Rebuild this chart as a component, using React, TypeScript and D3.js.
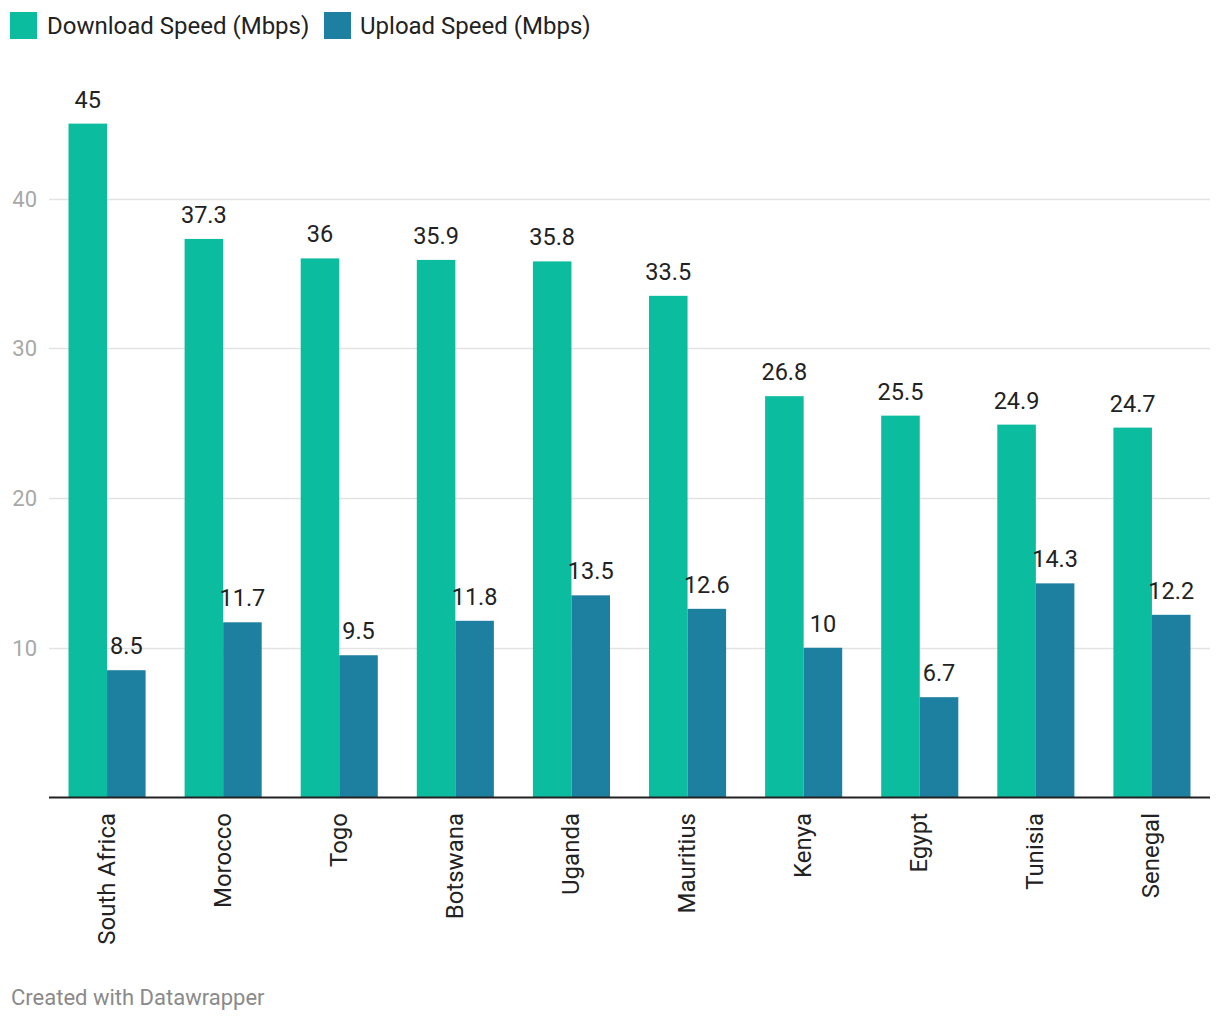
import React from "react";
import * as d3 from "d3";

const countries = ["South Africa", "Morocco", "Togo", "Botswana", "Uganda", "Mauritius", "Kenya", "Egypt", "Tunisia", "Senegal"];
const download = [45, 37.3, 36, 35.9, 35.8, 33.5, 26.8, 25.5, 24.9, 24.7];
const upload = [8.5, 11.7, 9.5, 11.8, 13.5, 12.6, 10, 6.7, 14.3, 12.2];
const yTicks = [10, 20, 30, 40];
const seriesNames = ["Download Speed (Mbps)", "Upload Speed (Mbps)"];
const colors = ["#0bbc9f", "#1e80a1"];

export default function App() {
  const W = 1220, H = 1020;
  const left = 49, right = 1210, base = 797.5;
  const x = d3.scaleBand<string>().domain(countries).range([left, right]).paddingInner(0.336).paddingOuter(0.168);
  const y = d3.scaleLinear().domain([0, 40]).range([base, 198.5]);
  const bw = x.bandwidth() / 2;
  const font = "Roboto, sans-serif";
  const series = [download, upload];
  return (
    <svg width={W} height={H} style={{ position: "absolute", left: 0, top: 0, background: "#fff" }} fontFamily={font}>
      <rect width={W} height={H} fill="#fff" />
      {/* legend */}
      <g>
        <rect x={10} y={12} width={27} height={27} fill={colors[0]} />
        <text x={47} y={34} fontSize={24} fill="#222">{seriesNames[0]}</text>
        <rect x={324} y={12} width={27} height={27} fill={colors[1]} />
        <text x={360} y={34} fontSize={24} fill="#222">{seriesNames[1]}</text>
      </g>
      {/* grid */}
      {yTicks.map((t) => (
        <g key={t}>
          <line x1={left} x2={right} y1={Math.round(y(t)) + 0.5} y2={Math.round(y(t)) + 0.5} stroke="#e3e3e3" strokeWidth={1.5} />
          <text x={37} y={y(t) + 8} fontSize={22} fill="#a8a8a8" textAnchor="end">{t}</text>
        </g>
      ))}
      {/* bars */}
      {countries.map((c, i) => (
        <g key={c}>
          {series.map((s, j) => {
            const bx = (x(c) as number) + j * bw;
            return (
              <g key={j}>
                <rect x={bx} y={y(s[i])} width={bw} height={base - y(s[i])} fill={colors[j]} />
                <text x={bx + bw / 2} y={y(s[i]) - 16} fontSize={23.5} fill="#222" textAnchor="middle">{s[i]}</text>
              </g>
            );
          })}
          <text
            transform={`translate(${(x(c) as number) + x.bandwidth() / 2 + 7.5},813) rotate(-90)`}
            fontSize={24}
            fill="#222"
            textAnchor="end"
          >{c}</text>
        </g>
      ))}
      <line x1={left} x2={right} y1={base} y2={base} stroke="#222" strokeWidth={2} />
      <text x={11} y={1005} fontSize={22} fill="#8a8a8a">Created with Datawrapper</text>
    </svg>
  );
}
